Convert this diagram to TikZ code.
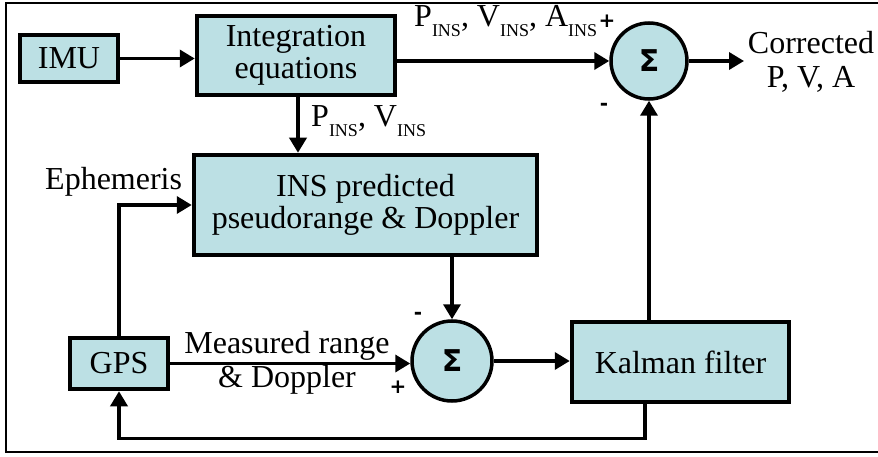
\documentclass[tikz,border=0pt]{standalone}
\usepackage{fontspec}
\setmainfont{Liberation Serif}
\newfontfamily\sigfont{DejaVu Sans}
\usetikzlibrary{arrows.meta,calc}
\definecolor{boxfill}{RGB}{188,224,228}
\newcommand{\sbs}[1]{\raisebox{-0.3em}{\fontsize{18}{18}\selectfont #1}}
\begin{document}
\begin{tikzpicture}[x=1pt,y=-1pt,
  blk/.style={draw=black,line width=4.5pt,fill=boxfill,inner sep=0pt,align=center,
    font=\fontsize{32}{32}\selectfont},
  sumnode/.style={circle,draw=black,line width=3.5pt,fill=boxfill,inner sep=0pt,
    font=\sigfont\bfseries\fontsize{30}{30}\selectfont},
  conn/.style={line width=3.5pt,-{Triangle[length=15pt,width=17pt]}},
  lbl/.style={inner sep=0pt,font=\fontsize{32}{34}\selectfont},
  sgn/.style={inner sep=0pt,font=\sigfont\bfseries\fontsize{20}{20}\selectfont}]
\useasboundingbox (0,0) rectangle (878,457);
\draw[line width=1.2pt] (878,3) -- (6,3) -- (6,452) -- (878,452);

\node[blk,minimum width=98pt,minimum height=47pt] (imu) at (69,58.5) {IMU};
\node[blk,minimum width=198pt,minimum height=79pt] (integ) at (296,55.5) {Integration\\equations};
\node[blk,minimum width=343pt,minimum height=100pt] (ins) at (365.5,205) {INS predicted\\pseudorange \& Doppler};
\node[blk,minimum width=98pt,minimum height=51pt] (gps) at (119,363.5) {GPS};
\node[blk,minimum width=217pt,minimum height=80pt] (kal) at (680.5,362) {Kalman filter};
\node[sumnode,minimum size=76pt] (s1) at (649,61) {Σ};
\node[sumnode,minimum size=80pt] (s2) at (452,361) {Σ};
\coordinate (out) at (744,61);

\draw[conn] (imu.east) -- (imu.east -| integ.west);
\draw[conn] (s1.west -| integ.east) -- (s1.west);
\draw[conn] (s1.east) -- (out);
\draw[conn] (integ.south -| 298,0) -- (ins.north -| 298,0);
\draw[conn] (gps.north) |- (ins.west);
\draw[conn] (s2.north |- ins.south) -- (s2.north);
\draw[conn] (gps.east) -- (gps.east -| s2.west);
\draw[conn] (s2.east) -- (s2.east -| kal.west);
\draw[conn] (s1.south |- kal.north) -- (s1.south);
\draw[conn] (kal.south -| 645,0) -- ++(0,34) -| (gps.south);

\node[lbl,anchor=base west] (l1) at (414,27) {P\sbs{INS}, V\sbs{INS}, A\sbs{INS}};
\node[lbl,anchor=base west] (l2) at (311,127) {P\sbs{INS}, V\sbs{INS}};
\node[lbl,anchor=base west] (l3) at (45,190) {Ephemeris};
\node[lbl,anchor=base,align=center] (l4) at (287,387) {Measured range\\\& Doppler};
\node[lbl,anchor=base,align=center] (l5) at (811,88) {Corrected\\P, V, A};
\node[sgn] (p1) at (607,21) {+};
\node[sgn] (m1) at (604,107) {-};
\node[sgn] (m2) at (418,316) {-};
\node[sgn] (p2) at (398,387) {+};
\end{tikzpicture}
\end{document}
